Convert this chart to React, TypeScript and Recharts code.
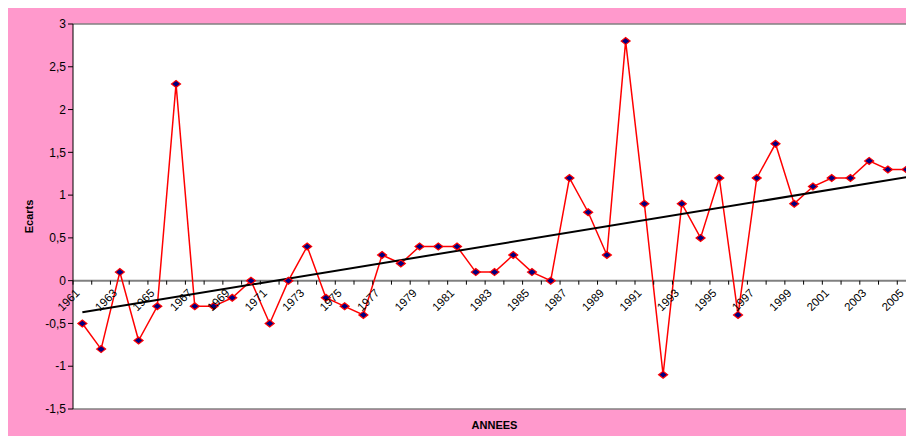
import { CartesianGrid, ComposedChart, Line, ReferenceLine, XAxis, YAxis } from "recharts";

// Écarts annuels 1961-2005, avec droite de tendance
const years = [
  1961, 1962, 1963, 1964, 1965, 1966, 1967, 1968, 1969, 1970, 1971, 1972, 1973, 1974, 1975,
  1976, 1977, 1978, 1979, 1980, 1981, 1982, 1983, 1984, 1985, 1986, 1987, 1988, 1989, 1990,
  1991, 1992, 1993, 1994, 1995, 1996, 1997, 1998, 1999, 2000, 2001, 2002, 2003, 2004, 2005,
];
const ecarts = [
  -0.5, -0.8, 0.1, -0.7, -0.3, 2.3, -0.3, -0.3, -0.2, 0, -0.5, 0, 0.4, -0.2, -0.3,
  -0.4, 0.3, 0.2, 0.4, 0.4, 0.4, 0.1, 0.1, 0.3, 0.1, 0, 1.2, 0.8, 0.3, 2.8,
  0.9, -1.1, 0.9, 0.5, 1.2, -0.4, 1.2, 1.6, 0.9, 1.1, 1.2, 1.2, 1.4, 1.3, 1.3,
];
// tendance linéaire: valeurs lues aux deux extrémités
const trendStart = -0.37;
const trendEnd = 1.21;
const yTicks = [-1.5, -1, -0.5, 0, 0.5, 1, 1.5, 2, 2.5, 3];

const data = years.map((y, i) => ({
  year: String(y),
  ecart: ecarts[i],
  trend: i === 0 ? trendStart : i === years.length - 1 ? trendEnd : null,
}));

const PINK = "#FF99CC";
const FONT = "'Liberation Sans', Arial, sans-serif";
const W = 920;
const H = 428;
const M = { top: 16, right: 12, bottom: 0, left: 0 };
const Y_W = 65;
const X_H = 27;
const PLOT_H = H - M.top - M.bottom - X_H;
const PLOT_W = W - M.left - M.right - Y_W;
const ZERO_Y = M.top + (PLOT_H * 3) / 4.5;
const BAND = PLOT_W / years.length;

const Diamond = (props: any) => {
  const { cx, cy, index } = props;
  if (cx == null || cy == null) return null;
  return (
    <polygon
      key={index}
      points={`${cx - 4.5},${cy} ${cx},${cy - 3.5} ${cx + 4.5},${cy} ${cx},${cy + 3.5}`}
      fill="#000080"
      stroke="#FF0000"
      strokeWidth={1.2}
    />
  );
};

const YearTick = (props: any) => {
  const { x, payload, index } = props;
  const bx = x - BAND / 2;
  const lx = x - 2;
  const ly = ZERO_Y + 13;
  return (
    <g>
      <line x1={bx} x2={bx} y1={ZERO_Y} y2={ZERO_Y + 4} stroke="#000" strokeWidth={1} />
      {index % 2 === 0 && (
        <text
          x={lx}
          y={ly}
          transform={`rotate(-45, ${lx}, ${ly})`}
          textAnchor="end"
          fontSize={11.5}
          fontFamily={FONT}
          fill="#000"
        >
          {payload.value}
        </text>
      )}
    </g>
  );
};

export default function App() {
  return (
    <div style={{ width: 906, height: H, overflow: "hidden", background: PINK }}>
      <ComposedChart width={W} height={H} data={data} margin={M}>
        <CartesianGrid horizontal={false} vertical={false} fill="#FFFFFF" />
        <ReferenceLine y={3} stroke="#808080" strokeWidth={1.5} ifOverflow="visible" />
        <ReferenceLine y={-1.5} stroke="#808080" strokeWidth={1.5} ifOverflow="visible" />
        <ReferenceLine y={0} stroke="#808080" strokeWidth={2} />
        <XAxis
          dataKey="year"
          height={X_H}
          interval={0}
          padding={{ left: BAND / 2, right: BAND / 2 }}
          axisLine={false}
          tickLine={false}
          tick={<YearTick />}
          label={({ viewBox }: any) => (
            <text
              x={Y_W + PLOT_W / 2}
              y={viewBox.y + 20}
              textAnchor="middle"
              fontSize={11}
              fontWeight="bold"
              fontFamily={FONT}
              fill="#000"
            >
              ANNEES
            </text>
          )}
        />
        <YAxis
          width={Y_W}
          domain={[-1.5, 3]}
          ticks={yTicks}
          interval={0}
          allowDataOverflow
          stroke="#000"
          tickSize={5}
          tickFormatter={(v: number) => String(v).replace(".", ",")}
          tick={{ fontSize: 12, fontFamily: FONT, fill: "#000" }}
          label={({ viewBox }: any) => {
            const cy = viewBox.y + viewBox.height / 2;
            return (
              <text
                x={25}
                y={cy}
                transform={`rotate(-90, 25, ${cy})`}
                textAnchor="middle"
                fontSize={11}
                fontWeight="bold"
                fontFamily={FONT}
                fill="#000"
              >
                Ecarts
              </text>
            );
          }}
        />
        <Line
          dataKey="ecart"
          stroke="#FF0000"
          strokeWidth={1.5}
          dot={<Diamond />}
          activeDot={false}
          isAnimationActive={false}
        />
        <Line
          dataKey="trend"
          stroke="#000000"
          strokeWidth={2}
          dot={false}
          activeDot={false}
          connectNulls
          isAnimationActive={false}
        />
      </ComposedChart>
    </div>
  );
}
